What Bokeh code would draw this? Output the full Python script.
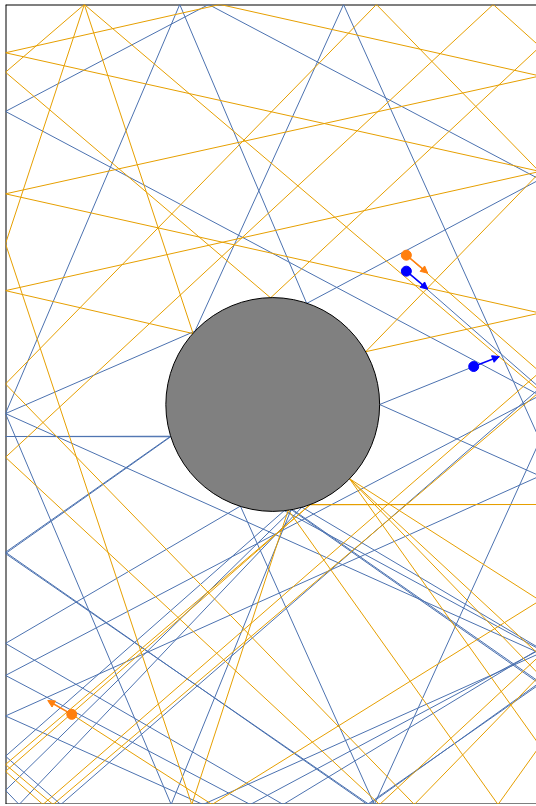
from bokeh.plotting import figure
from bokeh.models import Range1d, Arrow, NormalHead
from bokeh.embed import file_html
from bokeh.resources import INLINE

# billiard table (visible part) and circular obstacle, data units
table_x = [-1.0, 0.987]
table_y = [-1.5, 1.5]
obstacle_x = [0.0]
obstacle_y = [0.0]
obstacle_r = [0.4]

# trajectory 1 (blue): successive bounce points
blue_x = [0.5, 1.0, -0.793, -1.0, 0.043, 1.0, -0.084, -1.0, 1.0, -1.0,
          -0.240, 1.0, 0.127, -0.348, -1.0, -0.380, 0.069, 1.0, 0.354, -1.0,
          -0.382, -1.0, -0.382, -1.0, 0.361, 1.0, 0.073, -1.0, -0.949, 0.109,
          1.0, 0.039, -1.0, -0.121, 0.380, 1.0, 0.265, -0.291, -1.0, 1.0,
          -0.261, -1.0, 1.0, 0.4, 0.752]
blue_y = [0.5, 0.062, -1.5, -1.319, -0.398, -0.919, -1.5, -1.016, 0.034, 1.099,
          1.5, 0.844, 0.379, 1.5, -0.034, -1.5, -0.394, -1.048, -1.5, -0.554,
          -0.119, -0.120, -0.121, -0.559, -1.5, -1.042, -0.393, -1.447, -1.5, -0.385,
          -0.915, -1.5, -0.896, -0.381, -1.5, -0.134, 1.5, 0.275, -0.034, -0.933,
          -1.5, -1.168, -0.268, 0.0, 0.1425]

# trajectory 2 (orange): successive bounce points
orange_x = [0.5, 1.0, -0.860, -1.0, 0.140, 1.0, 0.140, -1.0, -0.822, 1.0,
            -0.705, -1.0, -0.008, 1.0, 0.825, -1.0, 0.400, 1.0, 0.287, 1.0,
            0.530, -1.0, 0.388, 1.0, 0.348, 1.0, -1.0, 1.0, -0.197, -1.0,
            1.0, -1.0, -0.298, -0.705, -1.0, -0.303, 0.058, 0.843, 1.0, 0.287,
            1.0, -0.227, -0.752]
orange_y = [0.56, 0.122, -1.5, -1.376, -0.375, -0.375, -0.376, -1.350, -1.5, 0.049,
            1.5, 1.246, 0.400, 1.342, 1.5, -0.198, -1.5, -0.941, -0.278, -1.016,
            -1.5, 0.077, 1.5, 0.871, 0.198, 0.343, 0.790, 1.232, 1.5, 1.319,
            0.874, 0.427, 0.266, 1.5, 0.603, -1.5, -0.396, -1.5, -1.280, -0.278,
            -0.735, -1.5, -1.162]

# particles: start / end positions and velocity arrows
blue_pts_x = [0.5, 0.752]
blue_pts_y = [0.5, 0.1425]
blue_tip_x = [0.580, 0.848]
blue_tip_y = [0.4325, 0.180]
orange_pts_x = [0.5, -0.752]
orange_pts_y = [0.56, -1.162]
orange_tip_x = [0.580, -0.842]
orange_tip_y = [0.4925, -1.110]

LINE_BLUE = "#4C72B0"
LINE_ORANGE = "#E69F00"

p = figure(width=531, height=800,
           x_range=Range1d(table_x[0], table_x[1]),
           y_range=Range1d(table_y[0], table_y[1]),
           x_axis_location=None, y_axis_location=None,
           output_backend="svg", toolbar_location=None, min_border=0)
p.margin = (4, 0, 0, 5)
p.grid.visible = False
p.outline_line_color = None
p.background_fill_color = "white"

# table walls: left, top, bottom (right wall lies just outside the view)
p.segment(x0=[table_x[0], table_x[0], table_x[0]],
          y0=[table_y[0], table_y[1], table_y[0]],
          x1=[table_x[0], table_x[1], table_x[1]],
          y1=[table_y[1], table_y[1], table_y[0]],
          line_color="black", line_width=2)

p.line(blue_x, blue_y, line_color=LINE_BLUE, line_width=1, line_join="round")
p.line(orange_x, orange_y, line_color=LINE_ORANGE, line_width=1, line_join="round")

p.circle(x=obstacle_x, y=obstacle_y, radius=obstacle_r, fill_color="gray",
         line_color="black", line_width=1)

for xs, ys, tx, ty, col in [(blue_pts_x, blue_pts_y, blue_tip_x, blue_tip_y, "#0000FF"),
                            (orange_pts_x, orange_pts_y, orange_tip_x, orange_tip_y, "#FF7F0E")]:
    for i in range(len(xs)):
        p.add_layout(Arrow(end=NormalHead(size=7, fill_color=col, line_color=col),
                           x_start=xs[i], y_start=ys[i], x_end=tx[i], y_end=ty[i],
                           line_color=col, line_width=1.5))
    p.scatter(xs, ys, size=10, fill_color=col, line_color=col)

open("out.html", "w").write(file_html(p, INLINE))
